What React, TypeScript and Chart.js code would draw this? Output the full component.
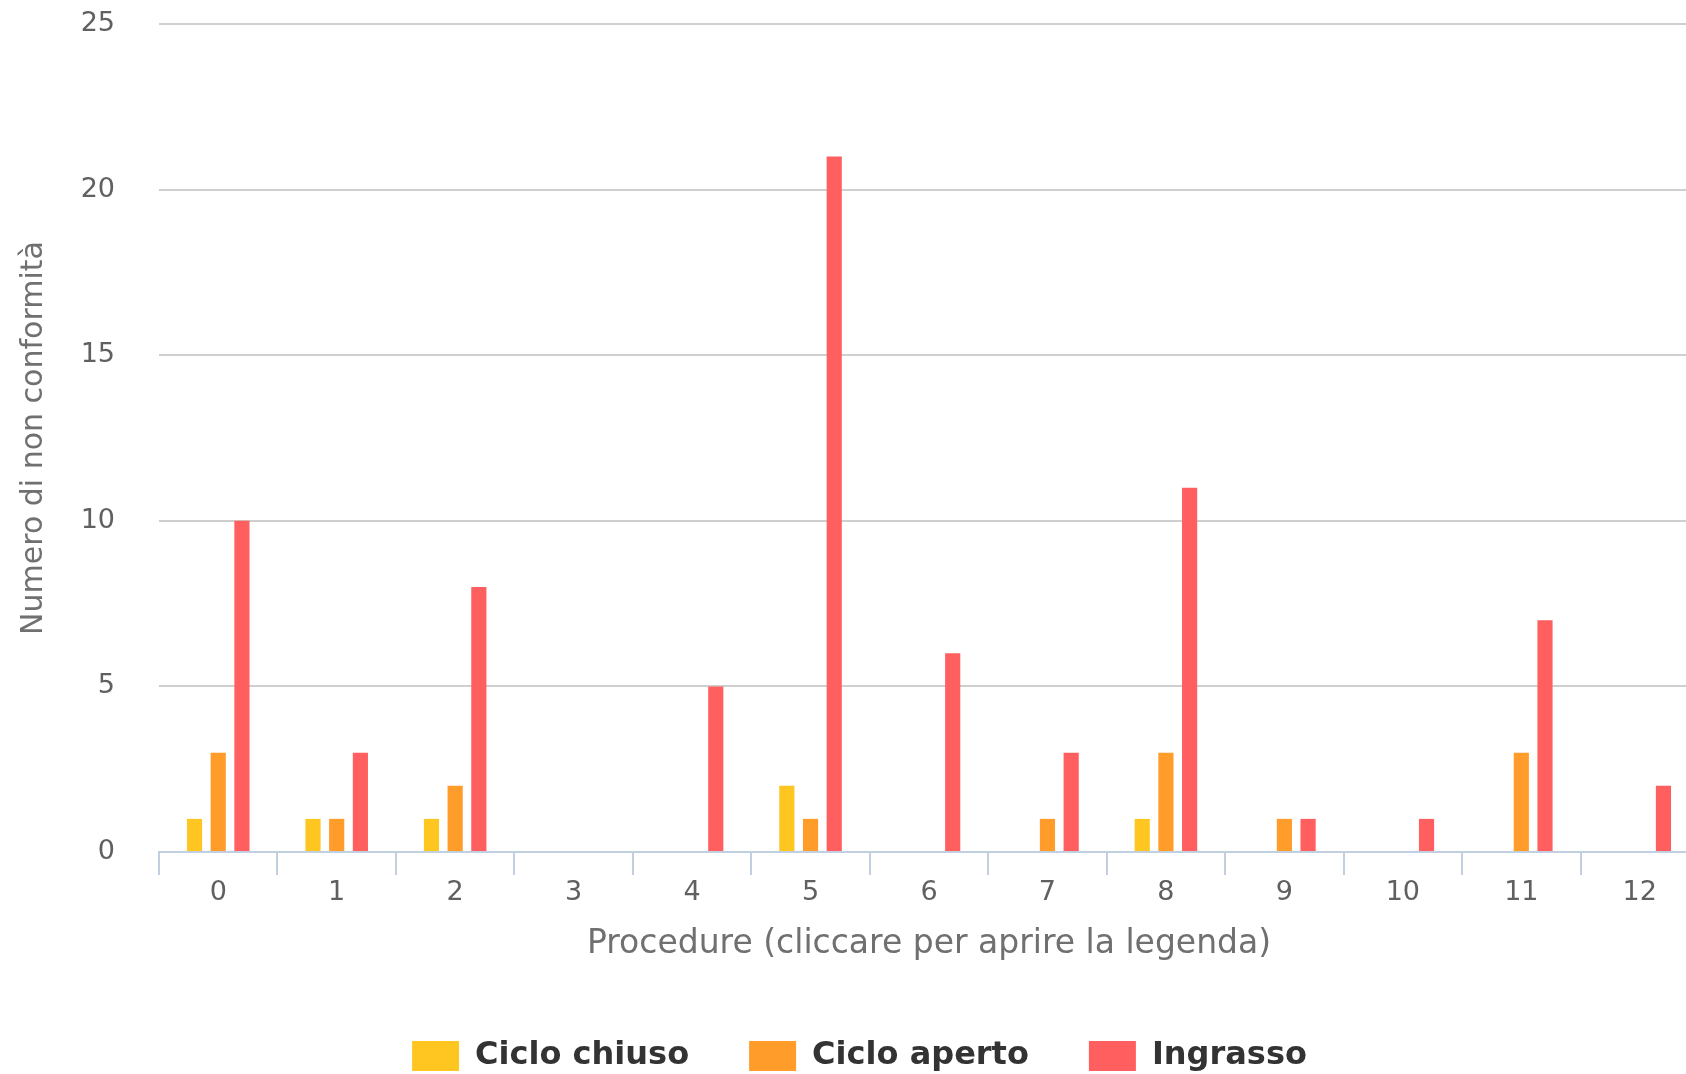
import React, { useEffect, useRef } from "react";
import { Chart, registerables } from "chart.js";

Chart.register(...registerables);

const categories = ["0", "1", "2", "3", "4", "5", "6", "7", "8", "9", "10", "11", "12"];
const cicloChiuso = [1, 1, 1, 0, 0, 2, 0, 0, 1, 0, 0, 0, 0];
const cicloAperto = [3, 1, 2, 0, 0, 1, 0, 1, 3, 1, 0, 3, 0];
const ingrasso = [10, 3, 8, 0, 5, 21, 6, 3, 11, 1, 1, 7, 2];
const seriesNames = ["Ciclo chiuso", "Ciclo aperto", "Ingrasso"];
const yTitle = "Numero di non conformità";
const xTitle = "Procedure (cliccare per aprire la legenda)";

const FONT = "'DejaVu Sans', Verdana, Arial, sans-serif";
const CW = 1738;
const CH = 1082;

export default function App() {
  const ref = useRef<HTMLCanvasElement | null>(null);

  useEffect(() => {
    if (!ref.current) return;
    const chart = new Chart(ref.current, {
      type: "bar",
      data: {
        labels: categories,
        datasets: [
          { label: seriesNames[0], data: cicloChiuso, backgroundColor: "#FFC520" },
          { label: seriesNames[1], data: cicloAperto, backgroundColor: "#FF9C2A" },
          { label: seriesNames[2], data: ingrasso, backgroundColor: "#FF5F5F" },
        ],
      },
      options: {
        responsive: false,
        animation: false,
        devicePixelRatio: 1,
        layout: { padding: { top: 24, right: 39, left: 20, bottom: 0 } },
        datasets: {
          bar: { categoryPercentage: 0.6, barPercentage: 0.64 },
        },
        plugins: {
          tooltip: { enabled: false },
          legend: {
            position: "bottom",
            labels: {
              boxWidth: 47,
              boxHeight: 30,
              padding: 60,
              color: "#333333",
              font: { family: FONT, size: 32, weight: "bold" },
            },
          },
        },
        scales: {
          x: {
            offset: true,
            afterFit: (s: any) => {
              s.height = 128;
            },
            border: { display: true, color: "#C0D0E0", width: 2 },
            grid: {
              display: true,
              offset: true,
              drawOnChartArea: false,
              drawTicks: true,
              tickLength: 23,
              color: "#C0D0E0",
              lineWidth: 2,
            },
            ticks: {
              color: "#606060",
              padding: 2,
              font: { family: FONT, size: 27 },
              maxRotation: 0,
            },
            title: {
              display: true,
              text: xTitle,
              color: "#707070",
              font: { family: FONT, size: 33 },
              padding: { top: 0, bottom: 16 },
            },
          },
          y: {
            min: 0,
            max: 25,
            afterFit: (s: any) => {
              s.width = 139;
            },
            border: { display: false },
            grid: {
              color: "#CFCFCF",
              lineWidth: 2,
              drawTicks: true,
              tickLength: 42,
              tickColor: "rgba(0,0,0,0)",
            },
            ticks: {
              stepSize: 5,
              color: "#606060",
              padding: 2,
              font: { family: FONT, size: 27 },
            },
            title: {
              display: true,
              text: yTitle,
              color: "#707070",
              font: { family: FONT, size: 30 },
              padding: { top: -4, bottom: 0 },
            },
          },
        },
      },
    });
    return () => chart.destroy();
  }, []);

  return (
    <div
      style={{
        position: "fixed",
        left: 0,
        top: 0,
        width: 1686,
        height: 1074,
        overflow: "hidden",
        background: "#ffffff",
      }}
    >
      <canvas ref={ref} width={CW} height={CH} style={{ width: CW, height: CH, display: "block" }} />
    </div>
  );
}
